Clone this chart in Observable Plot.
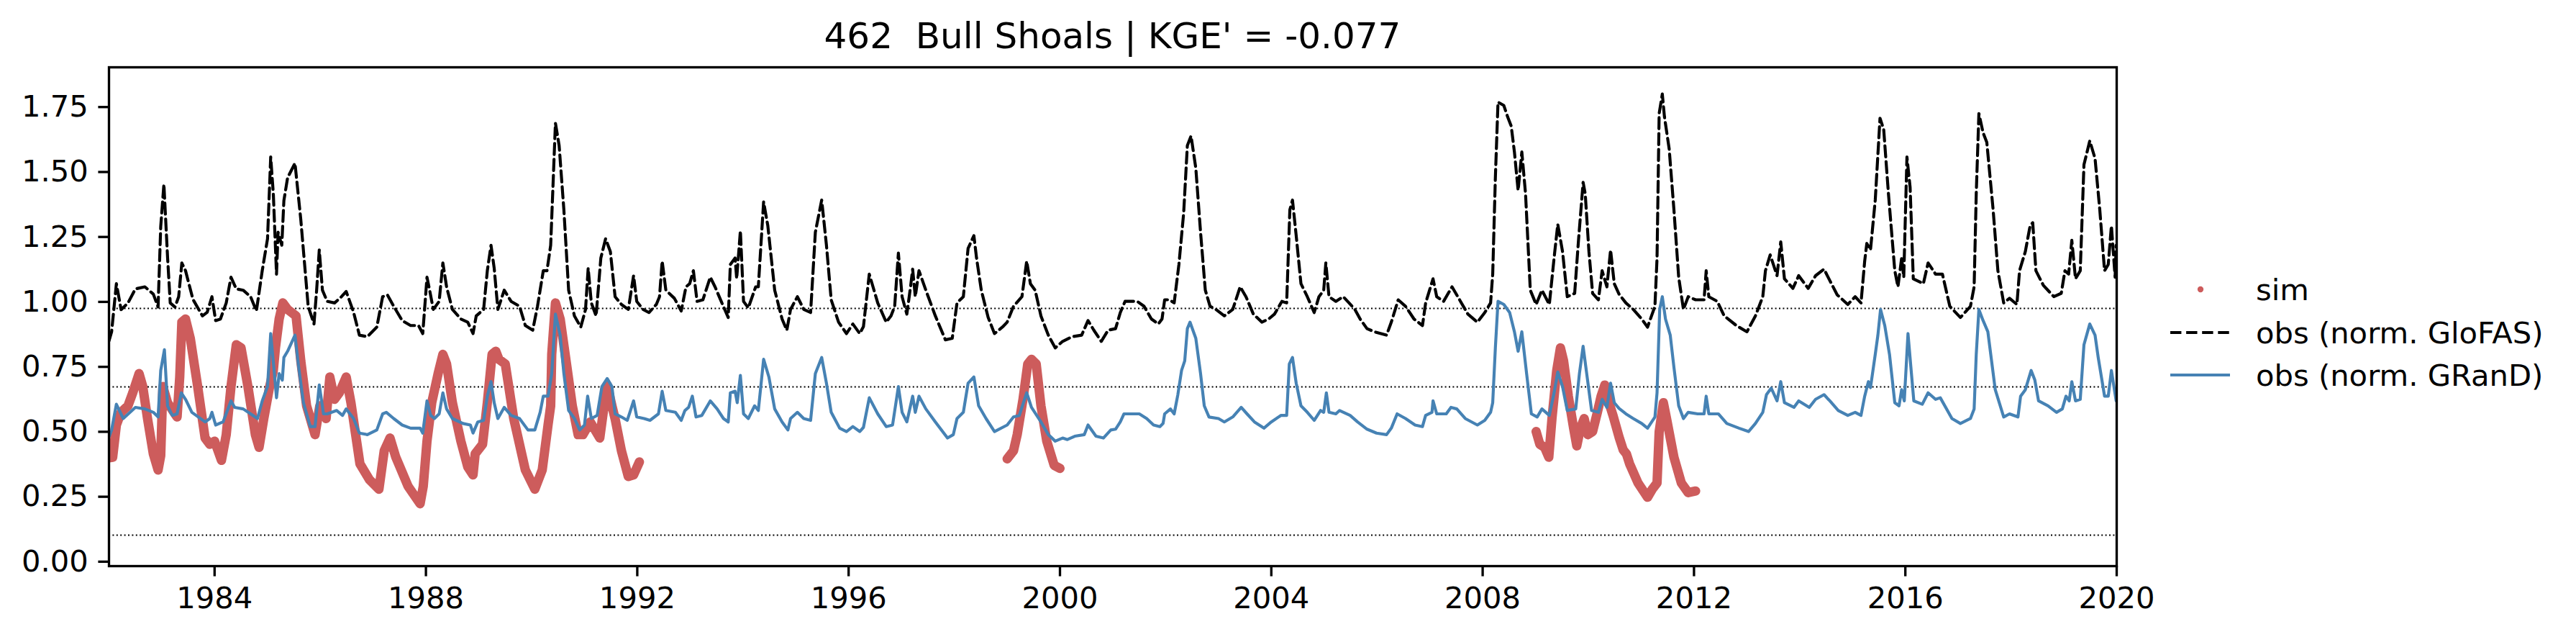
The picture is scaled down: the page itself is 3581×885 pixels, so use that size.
<!DOCTYPE html>
<html>
<head>
<meta charset="utf-8">
<script src="https://cdn.jsdelivr.net/npm/d3@7"></script>
<script src="https://cdn.jsdelivr.net/npm/@observablehq/plot@0.6"></script>
<style>
  html, body { margin: 0; padding: 0; background: white; }
  #wrap { position: relative; width: 3581px; height: 885px; font-family: "DejaVu Sans", sans-serif; }
  #chart { position: absolute; left: 0; top: 0; }
  #title { position: absolute; left: 151px; width: 2791px; top: 20px; text-align: center; font-size: 50px; line-height: 60px; color: black; white-space: pre; }
  #legend { position: absolute; left: 0; top: 0; }
</style>
</head>
<body>
<div id="wrap">
  <div id="chart"></div>
  <div id="title">462  Bull Shoals | KGE' = -0.077</div>
  <svg id="legend" width="3581" height="885"></svg>
</div>
<script>
// ---------------- data (decimal years, normalised values) ----------------
const glofasYears = [1982.00,1982.05,1982.14,1982.23,1982.36,1982.50,1982.68,1982.84,1982.93,1982.98,1983.04,1983.11,1983.16,1983.25,1983.32,1983.38,1983.45,1983.59,1983.77,1983.86,1983.95,1984.02,1984.11,1984.22,1984.31,1984.41,1984.54,1984.68,1984.79,1984.90,1985.00,1985.06,1985.11,1985.17,1985.20,1985.27,1985.31,1985.38,1985.52,1985.63,1985.77,1985.88,1985.93,1985.98,1986.04,1986.13,1986.27,1986.40,1986.49,1986.63,1986.74,1986.89,1987.07,1987.18,1987.27,1987.39,1987.55,1987.71,1987.86,1987.94,1988.02,1988.07,1988.14,1988.25,1988.32,1988.39,1988.50,1988.66,1988.79,1988.89,1988.95,1989.09,1989.16,1989.23,1989.29,1989.36,1989.48,1989.61,1989.77,1989.88,1990.02,1990.11,1990.22,1990.29,1990.36,1990.45,1990.52,1990.61,1990.70,1990.81,1990.93,1991.02,1991.07,1991.13,1991.22,1991.31,1991.40,1991.49,1991.58,1991.70,1991.83,1991.93,1991.99,1992.11,1992.22,1992.36,1992.42,1992.47,1992.54,1992.70,1992.83,1992.92,1992.99,1993.06,1993.13,1993.24,1993.38,1993.47,1993.60,1993.72,1993.76,1993.85,1993.88,1993.95,1994.01,1994.10,1994.24,1994.29,1994.39,1994.47,1994.60,1994.74,1994.83,1994.90,1995.03,1995.15,1995.28,1995.37,1995.49,1995.58,1995.67,1995.81,1995.96,1996.08,1996.21,1996.28,1996.39,1996.55,1996.71,1996.80,1996.87,1996.94,1997.01,1997.10,1997.17,1997.21,1997.26,1997.33,1997.46,1997.64,1997.83,1997.96,1998.05,1998.17,1998.26,1998.37,1998.42,1998.51,1998.64,1998.76,1998.91,1999.00,1999.12,1999.28,1999.37,1999.44,1999.53,1999.64,1999.78,1999.91,2000.05,2000.23,2000.41,2000.53,2000.64,2000.78,2000.91,2001.05,2001.14,2001.23,2001.46,2001.59,2001.73,2001.86,2001.93,2001.98,2002.07,2002.16,2002.25,2002.34,2002.41,2002.48,2002.57,2002.66,2002.75,2002.84,2002.95,2003.11,2003.27,2003.41,2003.52,2003.66,2003.82,2003.95,2004.06,2004.20,2004.29,2004.35,2004.40,2004.47,2004.56,2004.68,2004.81,2004.90,2004.99,2005.03,2005.09,2005.22,2005.36,2005.47,2005.58,2005.68,2005.81,2005.95,2006.18,2006.27,2006.40,2006.54,2006.70,2006.86,2006.92,2007.06,2007.13,2007.26,2007.42,2007.58,2007.72,2007.90,2008.04,2008.15,2008.19,2008.24,2008.29,2008.40,2008.47,2008.54,2008.60,2008.67,2008.74,2008.81,2008.90,2009.01,2009.12,2009.26,2009.35,2009.42,2009.51,2009.60,2009.74,2009.81,2009.90,2009.94,2010.01,2010.08,2010.19,2010.26,2010.35,2010.42,2010.49,2010.58,2010.71,2010.85,2011.01,2011.12,2011.26,2011.30,2011.34,2011.40,2011.44,2011.53,2011.62,2011.71,2011.80,2011.89,2012.03,2012.19,2012.23,2012.28,2012.44,2012.57,2012.80,2013.00,2013.16,2013.30,2013.35,2013.44,2013.57,2013.64,2013.71,2013.87,2013.98,2014.16,2014.30,2014.46,2014.57,2014.71,2014.91,2015.05,2015.16,2015.23,2015.27,2015.34,2015.43,2015.52,2015.59,2015.68,2015.80,2015.86,2015.93,2015.97,2016.03,2016.09,2016.15,2016.34,2016.43,2016.57,2016.70,2016.84,2017.04,2017.23,2017.30,2017.34,2017.39,2017.47,2017.54,2017.66,2017.75,2017.86,2017.97,2018.11,2018.16,2018.27,2018.36,2018.41,2018.47,2018.61,2018.81,2018.95,2019.02,2019.09,2019.15,2019.22,2019.31,2019.38,2019.49,2019.59,2019.68,2019.77,2019.84,2019.90,2019.97,2019.99];
const glofasValues = [0.85,0.885,1.07,0.97,0.996,1.05,1.058,1.03,0.98,1.29,1.453,1.17,0.996,0.98,1.02,1.15,1.12,1.01,0.946,0.96,1.02,0.928,0.934,0.996,1.095,1.05,1.045,1.02,0.965,1.12,1.243,1.558,1.416,1.107,1.268,1.218,1.39,1.478,1.534,1.317,0.983,0.915,1.045,1.20,1.045,1.002,0.996,1.02,1.04,0.96,0.872,0.866,0.903,1.02,1.027,0.983,0.928,0.909,0.909,0.878,1.095,1.045,0.971,1.002,1.15,1.058,0.971,0.934,0.922,0.878,0.946,0.971,1.12,1.218,1.13,0.971,1.045,1.002,0.983,0.909,0.891,0.983,1.12,1.12,1.218,1.688,1.602,1.354,1.045,0.946,0.903,0.971,1.13,0.996,0.946,1.169,1.243,1.194,1.02,0.99,0.971,1.101,1.002,0.971,0.959,0.99,1.02,1.157,1.045,1.014,0.965,1.058,1.07,1.12,1.002,1.008,1.095,1.058,0.996,0.94,1.144,1.169,1.089,1.274,1.002,0.977,1.058,1.058,1.385,1.293,1.045,0.934,0.891,0.971,1.02,0.971,0.959,1.268,1.392,1.218,1.008,0.922,0.878,0.915,0.878,0.905,1.107,0.996,0.922,0.946,0.983,1.188,1.02,0.953,1.058,1.126,1.02,1.12,1.045,0.946,0.854,0.86,0.996,1.02,1.206,1.255,1.169,1.045,0.94,0.878,0.903,0.922,0.983,1.02,1.157,1.07,1.045,0.946,0.872,0.823,0.848,0.866,0.872,0.928,0.891,0.848,0.891,0.897,0.959,1.002,1.002,0.983,0.934,0.915,0.934,1.008,1.008,0.996,1.144,1.342,1.602,1.639,1.515,1.268,1.045,0.983,0.971,0.946,0.971,1.058,1.02,0.953,0.922,0.934,0.953,1.002,0.996,1.354,1.392,1.255,1.07,1.02,0.959,1.02,1.045,1.15,1.02,1.002,1.02,0.996,0.971,0.934,0.897,0.885,0.872,0.922,1.008,0.983,0.934,0.909,0.996,1.089,1.02,1.002,1.058,1.002,0.953,0.922,0.959,0.996,1.107,1.478,1.769,1.756,1.713,1.676,1.577,1.429,1.577,1.416,1.045,0.99,1.045,0.99,1.169,1.299,1.194,1.02,1.033,1.231,1.46,1.416,1.194,1.033,1.008,1.12,1.058,1.20,1.07,1.03,0.996,0.971,0.934,0.903,0.983,1.169,1.725,1.80,1.713,1.589,1.354,1.095,0.971,1.02,1.008,1.008,1.12,1.02,1.002,0.946,0.909,0.885,0.946,1.02,1.12,1.181,1.101,1.231,1.089,1.052,1.101,1.052,1.101,1.126,1.082,1.027,0.99,1.02,0.996,1.157,1.225,1.20,1.392,1.707,1.664,1.416,1.12,1.058,1.169,1.095,1.558,1.441,1.089,1.07,1.15,1.107,1.107,0.983,0.94,0.983,1.058,1.416,1.725,1.651,1.614,1.354,1.12,0.996,1.014,0.99,1.12,1.194,1.293,1.305,1.12,1.064,1.02,1.033,1.12,1.107,1.237,1.089,1.12,1.528,1.62,1.552,1.354,1.12,1.144,1.293,1.095,1.218];

const grandYears = [1982.00,1982.05,1982.14,1982.27,1982.50,1982.68,1982.84,1982.93,1982.98,1983.05,1983.11,1983.20,1983.29,1983.37,1983.45,1983.57,1983.82,1983.91,1983.95,1984.02,1984.16,1984.31,1984.38,1984.54,1984.68,1984.81,1984.90,1985.00,1985.06,1985.13,1985.17,1985.22,1985.28,1985.31,1985.38,1985.52,1985.59,1985.68,1985.81,1985.90,1985.98,1986.06,1986.13,1986.31,1986.42,1986.49,1986.63,1986.74,1986.89,1987.07,1987.18,1987.25,1987.39,1987.55,1987.71,1987.89,1987.94,1988.02,1988.09,1988.16,1988.25,1988.32,1988.39,1988.50,1988.70,1988.84,1988.89,1988.98,1989.09,1989.16,1989.23,1989.29,1989.36,1989.48,1989.61,1989.77,1989.93,1990.06,1990.16,1990.22,1990.31,1990.38,1990.45,1990.54,1990.61,1990.70,1990.81,1990.91,1991.00,1991.06,1991.13,1991.24,1991.33,1991.43,1991.52,1991.58,1991.70,1991.81,1991.86,1991.93,1991.99,1992.13,1992.24,1992.40,1992.47,1992.54,1992.72,1992.83,1992.90,1992.97,1993.04,1993.11,1993.22,1993.38,1993.51,1993.63,1993.72,1993.76,1993.85,1993.89,1993.95,1994.01,1994.10,1994.22,1994.29,1994.39,1994.49,1994.60,1994.74,1994.85,1994.90,1995.03,1995.15,1995.28,1995.37,1995.49,1995.58,1995.67,1995.83,1995.96,1996.08,1996.21,1996.28,1996.39,1996.55,1996.71,1996.83,1996.94,1997.01,1997.10,1997.21,1997.26,1997.33,1997.46,1997.64,1997.87,1997.98,1998.05,1998.17,1998.26,1998.37,1998.46,1998.60,1998.76,1999.00,1999.12,1999.23,1999.37,1999.46,1999.64,1999.78,1999.91,2000.05,2000.14,2000.28,2000.46,2000.53,2000.68,2000.82,2000.96,2001.05,2001.14,2001.21,2001.50,2001.64,2001.77,2001.89,2001.95,2001.98,2002.09,2002.16,2002.23,2002.30,2002.36,2002.41,2002.46,2002.57,2002.66,2002.73,2002.82,2003.00,2003.11,2003.27,2003.43,2003.54,2003.68,2003.86,2004.00,2004.18,2004.29,2004.34,2004.40,2004.47,2004.56,2004.68,2004.81,2004.93,2004.99,2005.04,2005.09,2005.22,2005.29,2005.49,2005.63,2005.81,2005.99,2006.18,2006.27,2006.38,2006.54,2006.72,2006.86,2006.92,2007.04,2007.06,2007.13,2007.31,2007.40,2007.51,2007.67,2007.90,2008.04,2008.15,2008.19,2008.24,2008.29,2008.40,2008.51,2008.60,2008.67,2008.74,2008.83,2008.92,2009.03,2009.12,2009.26,2009.35,2009.42,2009.51,2009.60,2009.76,2009.83,2009.90,2009.96,2010.06,2010.19,2010.26,2010.35,2010.42,2010.49,2010.58,2010.71,2010.85,2011.01,2011.12,2011.26,2011.30,2011.35,2011.40,2011.46,2011.55,2011.62,2011.71,2011.80,2011.89,2012.07,2012.19,2012.23,2012.28,2012.46,2012.62,2012.85,2013.03,2013.16,2013.30,2013.37,2013.46,2013.57,2013.64,2013.71,2013.89,2013.98,2014.18,2014.30,2014.46,2014.57,2014.73,2014.91,2015.05,2015.16,2015.23,2015.30,2015.34,2015.43,2015.48,2015.53,2015.61,2015.70,2015.80,2015.88,2015.93,2015.98,2016.05,2016.11,2016.16,2016.32,2016.43,2016.57,2016.66,2016.88,2017.04,2017.23,2017.30,2017.34,2017.39,2017.47,2017.56,2017.70,2017.86,2017.97,2018.13,2018.18,2018.27,2018.38,2018.45,2018.52,2018.70,2018.86,2018.97,2019.04,2019.10,2019.15,2019.22,2019.31,2019.38,2019.49,2019.59,2019.65,2019.77,2019.84,2019.90,2019.99];
const grandValues = [0.48,0.507,0.606,0.551,0.594,0.588,0.575,0.557,0.736,0.816,0.60,0.563,0.569,0.65,0.625,0.575,0.538,0.551,0.575,0.526,0.538,0.619,0.594,0.588,0.569,0.551,0.619,0.674,0.878,0.724,0.631,0.724,0.699,0.786,0.81,0.872,0.748,0.612,0.52,0.52,0.68,0.569,0.569,0.582,0.563,0.588,0.551,0.495,0.489,0.507,0.569,0.575,0.551,0.526,0.514,0.514,0.495,0.619,0.563,0.551,0.569,0.65,0.588,0.551,0.532,0.526,0.495,0.538,0.544,0.637,0.693,0.612,0.551,0.594,0.563,0.551,0.507,0.507,0.575,0.637,0.637,0.724,0.953,0.872,0.724,0.582,0.551,0.507,0.526,0.637,0.551,0.563,0.674,0.705,0.674,0.569,0.557,0.544,0.575,0.619,0.557,0.551,0.544,0.569,0.656,0.582,0.575,0.544,0.582,0.594,0.637,0.557,0.563,0.619,0.588,0.551,0.538,0.65,0.656,0.612,0.717,0.569,0.551,0.60,0.582,0.779,0.711,0.588,0.538,0.507,0.551,0.575,0.551,0.544,0.724,0.786,0.687,0.575,0.514,0.501,0.52,0.501,0.517,0.631,0.569,0.52,0.526,0.674,0.575,0.538,0.637,0.575,0.637,0.588,0.538,0.476,0.489,0.551,0.575,0.687,0.711,0.60,0.551,0.501,0.526,0.557,0.563,0.65,0.594,0.538,0.489,0.464,0.476,0.47,0.483,0.489,0.526,0.483,0.476,0.507,0.51,0.538,0.569,0.569,0.551,0.526,0.52,0.532,0.569,0.588,0.569,0.643,0.736,0.773,0.897,0.922,0.86,0.724,0.60,0.557,0.551,0.538,0.557,0.594,0.569,0.538,0.514,0.538,0.563,0.563,0.761,0.786,0.687,0.60,0.575,0.544,0.582,0.575,0.65,0.575,0.569,0.582,0.563,0.538,0.51,0.495,0.489,0.514,0.569,0.551,0.526,0.52,0.563,0.575,0.619,0.569,0.569,0.594,0.588,0.551,0.526,0.544,0.575,0.612,0.823,1.002,0.99,0.959,0.885,0.81,0.885,0.724,0.569,0.557,0.588,0.563,0.65,0.73,0.674,0.582,0.588,0.724,0.829,0.736,0.582,0.575,0.625,0.594,0.687,0.612,0.59,0.569,0.551,0.532,0.514,0.557,0.65,0.971,1.02,0.934,0.872,0.748,0.60,0.551,0.575,0.569,0.569,0.637,0.569,0.569,0.532,0.514,0.501,0.532,0.575,0.643,0.668,0.619,0.693,0.612,0.594,0.619,0.594,0.625,0.643,0.619,0.582,0.563,0.575,0.563,0.637,0.693,0.67,0.798,0.872,0.971,0.909,0.798,0.612,0.60,0.662,0.619,0.878,0.736,0.619,0.606,0.65,0.625,0.631,0.551,0.532,0.551,0.588,0.798,0.971,0.928,0.885,0.662,0.557,0.569,0.557,0.637,0.662,0.736,0.699,0.619,0.60,0.575,0.588,0.637,0.619,0.693,0.619,0.625,0.835,0.915,0.872,0.786,0.637,0.637,0.736,0.619];

// sim: three separate simulated periods (segment id per point)
const simYears = [1982.00,1982.07,1982.14,1982.23,1982.36,1982.45,1982.57,1982.64,1982.73,1982.84,1982.93,1982.98,1983.02,1983.11,1983.23,1983.29,1983.34,1983.38,1983.45,1983.54,1983.68,1983.82,1983.91,1984.00,1984.13,1984.22,1984.31,1984.41,1984.50,1984.63,1984.77,1984.84,1984.93,1985.04,1985.11,1985.15,1985.22,1985.29,1985.38,1985.54,1985.63,1985.74,1985.90,1985.99,1986.11,1986.18,1986.27,1986.36,1986.49,1986.58,1986.75,1986.93,1987.11,1987.21,1987.32,1987.43,1987.66,1987.89,1987.95,1988.02,1988.11,1988.23,1988.32,1988.39,1988.50,1988.66,1988.79,1988.89,1988.93,1989.07,1989.16,1989.25,1989.32,1989.38,1989.50,1989.66,1989.88,1990.06,1990.20,1990.31,1990.36,1990.38,1990.45,1990.54,1990.66,1990.77,1990.88,1990.97,1991.11,1991.29,1991.38,1991.43,1991.52,1991.58,1991.70,1991.83,1991.93,1992.04,
  1999.00,1999.12,1999.19,1999.30,1999.39,1999.46,1999.55,1999.64,1999.75,1999.89,2000.00,
  2009.01,2009.08,2009.17,2009.25,2009.31,2009.40,2009.47,2009.53,2009.62,2009.72,2009.78,2009.85,2009.92,2009.99,2010.08,2010.17,2010.24,2010.31,2010.37,2010.47,2010.58,2010.66,2010.72,2010.78,2010.94,2011.12,2011.21,2011.30,2011.34,2011.42,2011.48,2011.62,2011.76,2011.89,2012.03];
const simValues = [0.40,0.402,0.526,0.575,0.60,0.65,0.724,0.674,0.551,0.415,0.353,0.408,0.674,0.612,0.575,0.557,0.711,0.922,0.934,0.86,0.674,0.476,0.452,0.464,0.39,0.489,0.674,0.835,0.823,0.674,0.489,0.44,0.551,0.674,0.736,0.823,0.934,0.996,0.971,0.946,0.773,0.60,0.489,0.60,0.551,0.711,0.625,0.65,0.711,0.612,0.377,0.316,0.279,0.427,0.476,0.402,0.291,0.223,0.291,0.464,0.612,0.724,0.798,0.761,0.612,0.464,0.365,0.334,0.415,0.452,0.612,0.798,0.81,0.779,0.761,0.551,0.353,0.279,0.353,0.526,0.60,0.798,0.996,0.934,0.761,0.60,0.489,0.489,0.538,0.476,0.612,0.68,0.60,0.55,0.427,0.328,0.334,0.384,
  0.396,0.427,0.489,0.625,0.761,0.779,0.761,0.60,0.464,0.371,0.359,
  0.501,0.452,0.44,0.402,0.551,0.736,0.823,0.773,0.637,0.514,0.446,0.514,0.551,0.489,0.501,0.575,0.637,0.68,0.625,0.56,0.48,0.43,0.415,0.377,0.303,0.248,0.279,0.303,0.50,0.612,0.551,0.402,0.303,0.266,0.272];
const simSegments = [].concat(Array(98).fill(0), Array(11).fill(1), Array(35).fill(2));

const refLines = [0.975, 0.673, 0.102];
const xTickYears = [1984, 1988, 1992, 1996, 2000, 2004, 2008, 2012, 2016, 2020];
const yTicks = [0, 0.25, 0.5, 0.75, 1.0, 1.25, 1.5, 1.75];
const legendLabels = ["sim", "obs (norm. GloFAS)", "obs (norm. GRanD)"];

// ---------------- helpers ----------------
const toDate = y => { const yr = Math.floor(y); const s = Date.UTC(yr, 0, 1), e = Date.UTC(yr + 1, 0, 1); return new Date(s + (y - yr) * (e - s)); };
const glofas = glofasYears.map((t, i) => ({date: toDate(t), v: glofasValues[i]}));
const grand = grandYears.map((t, i) => ({date: toDate(t), v: grandValues[i]}));
const sim = simYears.map((t, i) => ({date: toDate(t), v: simValues[i], seg: simSegments[i]}));
const xTicks = xTickYears.map(y => new Date(Date.UTC(y, 0, 1)));

const RED = "#cd5c5c", BLUE = "#4682b4";
const LW = 4.17;

const chart = Plot.plot({
  width: 3581, height: 885,
  marginLeft: 151, marginRight: 639, marginTop: 93, marginBottom: 99,
  x: {type: "utc", domain: [new Date(Date.UTC(1982, 0, 1)), new Date(Date.UTC(2020, 0, 1))], label: null},
  y: {domain: [-0.017, 1.903], label: null},
  style: {fontFamily: "DejaVu Sans", fontSize: "41.7px", color: "black", background: "white"},
  marks: [
    Plot.ruleY(refLines, {stroke: "black", strokeWidth: 2, strokeDasharray: "2,3.4"}),
    Plot.line(sim, {x: "date", y: "v", z: "seg", stroke: RED, strokeWidth: 13, strokeLinecap: "round", strokeLinejoin: "round", clip: true}),
    Plot.line(glofas, {x: "date", y: "v", stroke: "black", strokeWidth: LW, strokeDasharray: "15.4,6.7", clip: true}),
    Plot.line(grand, {x: "date", y: "v", stroke: BLUE, strokeWidth: LW, clip: true}),
    Plot.frame({stroke: "black", strokeWidth: 3.33}),
    Plot.axisX({ticks: xTicks, tickFormat: d3.utcFormat("%Y"), tickSize: 14.6, tickPadding: 14, fontSize: 41.7, strokeWidth: 3.33, label: null}),
    Plot.axisY({ticks: yTicks, tickFormat: d3.format(".2f"), tickSize: 14.6, tickPadding: 14, fontSize: 41.7, strokeWidth: 3.33, label: null})
  ]
});
document.getElementById("chart").appendChild(chart);

// ---------------- legend ----------------
const lg = d3.select("#legend");
const rows = [402, 462, 521];
const g = lg.append("g").attr("font-family", "DejaVu Sans").attr("font-size", 41.7);
g.append("circle").attr("cx", 3059).attr("cy", rows[0]).attr("r", 4.2).attr("fill", RED);
g.append("line").attr("x1", 3017).attr("x2", 3100).attr("y1", rows[1]).attr("y2", rows[1])
  .attr("stroke", "black").attr("stroke-width", LW).attr("stroke-dasharray", "15.4,6.7");
g.append("line").attr("x1", 3017).attr("x2", 3100).attr("y1", rows[2]).attr("y2", rows[2])
  .attr("stroke", BLUE).attr("stroke-width", LW);
legendLabels.forEach((t, i) => {
  g.append("text").attr("x", 3136).attr("y", rows[i]).attr("dy", "0.35em").attr("fill", "black").text(t);
});
</script>
</body>
</html>
